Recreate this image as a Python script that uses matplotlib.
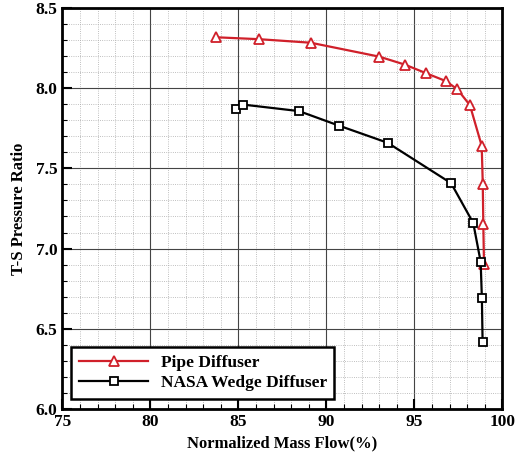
import matplotlib.pyplot as plt
from matplotlib.ticker import MultipleLocator

# Pipe diffuser
pipe_flow = [83.73, 86.19, 89.11, 93.01, 94.47, 95.66, 96.78, 97.44, 98.16,
             98.83, 98.89, 98.92, 98.96]
pipe_pr = [8.319, 8.307, 8.285, 8.198, 8.148, 8.095, 8.046, 7.995, 7.895,
           7.641, 7.404, 7.154, 6.903]

# NASA wedge diffuser
wedge_flow = [84.87, 85.25, 88.45, 90.70, 93.49, 97.09, 98.35, 98.77, 98.84, 98.88]
wedge_pr = [7.870, 7.899, 7.858, 7.768, 7.660, 7.408, 7.159, 6.917, 6.689, 6.416]

plt.rcParams['font.family'] = ['Liberation Serif', 'DejaVu Serif']
plt.rcParams['font.weight'] = 'bold'

fig = plt.figure(figsize=(5.18, 4.55), dpi=100)
ax = fig.add_axes([0.1203, 0.1018, 0.8494, 0.88])

ax.plot(pipe_flow, pipe_pr, color='#d0202a', lw=1.6, marker='^', ms=7.5,
        mfc='white', mec='#d0202a', mew=1.3, label='Pipe Diffuser', zorder=3)
ax.plot(wedge_flow, wedge_pr, color='black', lw=1.6, marker='s', ms=6,
        mfc='white', mec='black', mew=1.3, label='NASA Wedge Diffuser', zorder=3)

ax.set_xlim(75, 100)
ax.set_ylim(6.0, 8.5)
ax.xaxis.set_major_locator(MultipleLocator(5))
ax.xaxis.set_minor_locator(MultipleLocator(1))
ax.yaxis.set_major_locator(MultipleLocator(0.5))
ax.yaxis.set_minor_locator(MultipleLocator(0.1))
ax.yaxis.set_major_formatter(plt.FormatStrFormatter('%.1f'))

ax.grid(which='major', color='#444444', lw=0.8, ls='-')
ax.grid(which='minor', color='#aaaaaa', lw=0.6, ls=':')
ax.set_axisbelow(True)

ax.tick_params(which='major', direction='in', length=7, width=1.5, labelsize=12.5)
ax.tick_params(which='minor', direction='in', length=3.5, width=0.8)
ax.tick_params(top=False, right=False)
for s in ax.spines.values():
    s.set_linewidth(2)

ax.set_xlabel('Normalized Mass Flow(%)', fontsize=12, fontweight='bold', labelpad=4)
ax.set_ylabel('T-S Pressure Ratio', fontsize=12, fontweight='bold', labelpad=6)

leg = ax.legend(loc='lower left', fontsize=12.5, frameon=True, fancybox=False,
                edgecolor='black', framealpha=1, borderpad=0.45, labelspacing=0.25,
                handlelength=4.0, handletextpad=0.7, borderaxespad=0,
                bbox_to_anchor=(0.02, 0.024))
leg.get_frame().set_linewidth(1.8)

fig.savefig('out.png', dpi=100)
